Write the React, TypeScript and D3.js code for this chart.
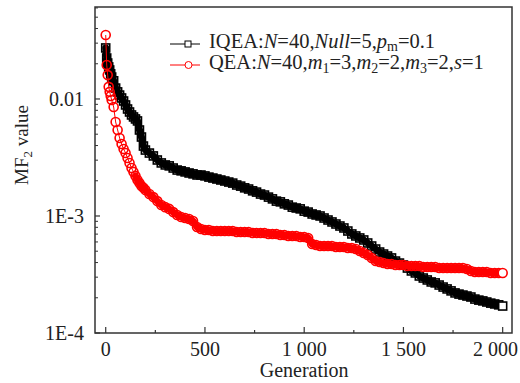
import React from "react";
import * as d3 from "d3";

// generation index shared by both series
const generations = [
  0, 5, 10, 15, 20, 25, 30, 40, 50, 60, 70, 80, 90, 100, 110, 120, 130, 140, 150, 160, 170, 180, 190, 200,
  220, 240, 260, 280, 300, 320, 340, 360, 380, 400,
  420, 440, 460, 480, 500, 520, 540, 560, 580, 600,
  620, 640, 660, 680, 700, 720, 740, 760, 780, 800,
  820, 840, 860, 880, 900, 920, 940, 960, 980, 1000,
  1020, 1040, 1060, 1080, 1100, 1120, 1140, 1160, 1180, 1200,
  1220, 1240, 1260, 1280, 1300, 1320, 1340, 1360, 1380, 1400,
  1420, 1440, 1460, 1480, 1500, 1520, 1540, 1560, 1580, 1600,
  1620, 1640, 1660, 1680, 1700, 1720, 1740, 1760, 1780, 1800,
  1820, 1840, 1860, 1880, 1900, 1920, 1940, 1960, 1980, 2000,
];

// IQEA: N=40, Null=5, pm=0.1
const iqeaValues = [
  0.0273, 0.0224, 0.0203, 0.0188, 0.0177, 0.0164, 0.0154, 0.0143, 0.0124, 0.0115, 0.0108, 0.0102,
  0.00961, 0.00889, 0.00821, 0.00774, 0.0073, 0.00702, 0.00675, 0.00649, 0.00543, 0.00473, 0.00396, 0.00366,
  0.00345, 0.00326, 0.00301, 0.00284, 0.00273, 0.00268, 0.00257, 0.00247, 0.00243, 0.00238,
  0.00233, 0.00229, 0.00224, 0.00224, 0.0022, 0.00215, 0.00211, 0.00207, 0.00203, 0.00199,
  0.00195, 0.00191, 0.00184, 0.0018, 0.00174, 0.0017, 0.00164, 0.0016, 0.00154, 0.00151,
  0.00145, 0.0014, 0.00134, 0.00132, 0.00127, 0.00124, 0.00119, 0.00117, 0.00115, 0.0011,
  0.00108, 0.00104, 0.00102, 0.001, 0.000961, 0.000924, 0.000889, 0.000854, 0.000821, 0.00079,
  0.000744, 0.000702, 0.000675, 0.000649, 0.000624, 0.000588, 0.000554, 0.000522, 0.000492, 0.000473,
  0.000455, 0.000438, 0.000412, 0.000396, 0.000381, 0.000359, 0.000339, 0.000326, 0.000307, 0.000295,
  0.000284, 0.000273, 0.000268, 0.000257, 0.000247, 0.000238, 0.000229, 0.00022, 0.000215, 0.000211,
  0.000207, 0.000203, 0.000195, 0.000191, 0.000188, 0.000184, 0.00018, 0.000177, 0.000174, 0.00017,
];

// QEA: N=40, m1=3, m2=2, m3=2, s=1
const qeaValues = [
  0.0352, 0.0195, 0.016, 0.0127, 0.0115, 0.0106, 0.0098, 0.00854, 0.00636, 0.00543, 0.00464, 0.00412,
  0.00374, 0.00345, 0.00313, 0.00284, 0.00257, 0.00238, 0.0022, 0.00203, 0.00191, 0.0018, 0.00174, 0.00167,
  0.00154, 0.00145, 0.00134, 0.00124, 0.00119, 0.00115, 0.00108, 0.00102, 0.000981, 0.000961,
  0.000943, 0.000906, 0.000805, 0.000774, 0.000759, 0.000759, 0.000744, 0.000744, 0.000744, 0.000744,
  0.000744, 0.000744, 0.00073, 0.00073, 0.00073, 0.00073, 0.000716, 0.000716, 0.000716, 0.000716,
  0.000702, 0.000702, 0.000702, 0.000688, 0.000688, 0.000675, 0.000675, 0.000675, 0.000662, 0.000662,
  0.000649, 0.000576, 0.000565, 0.000554, 0.000554, 0.000554, 0.000554, 0.000543, 0.000543, 0.000543,
  0.000533, 0.000533, 0.000522, 0.000502, 0.000483, 0.000464, 0.000438, 0.000412, 0.000404, 0.000396,
  0.000389, 0.000389, 0.000381, 0.000381, 0.000381, 0.000374, 0.000374, 0.000374, 0.000374, 0.000366,
  0.000366, 0.000366, 0.000366, 0.000359, 0.000359, 0.000359, 0.000359, 0.000359, 0.000359, 0.000359,
  0.000352, 0.000339, 0.000332, 0.000332, 0.000332, 0.000332, 0.000326, 0.000326, 0.000326, 0.000326,
];

const xTicks = [0, 500, 1000, 1500, 2000];
const xTickLabels = ["0", "500", "1 000", "1 500", "2 000"];
const xMinorTicks = [250, 750, 1250, 1750];
const yTicks = [1e-4, 1e-3, 1e-2];
const yTickLabels = ["1E-4", "1E-3", "0.01"];

const W = 520;
const H = 383;
const margin = { left: 95, right: 8, top: 7, bottom: 50 };
const FONT = "'Liberation Serif', 'Times New Roman', serif";

export default function App() {
  const x = d3.scaleLinear().domain([-54, 2047]).range([margin.left, W - margin.right]);
  const y = d3.scaleLog().domain([1e-4, 0.0611]).range([H - margin.bottom, margin.top]);

  const iqea = generations.map((g, i) => [g, iqeaValues[i]] as [number, number]);
  const qea = generations.map((g, i) => [g, qeaValues[i]] as [number, number]);

  const line = d3
    .line<[number, number]>()
    .x((d) => x(d[0]))
    .y((d) => y(d[1]));

  // log minor ticks 2..9 in each decade inside the domain
  const yMinor: number[] = [];
  yTicks.forEach((dec) => {
    for (let k = 2; k <= 9; k++) {
      const v = dec * k;
      if (v < 0.0611) yMinor.push(v);
    }
  });

  const x0 = margin.left;
  const x1 = W - margin.right;
  const y0 = H - margin.bottom;
  const y1 = margin.top;
  const sq = 8;
  const lastB = iqea.length - 1;
  const lastR = qea.length - 1;

  // where the original markers are packed into a solid band
  const iqeaBand = iqea.slice(0, lastB);
  const qeaBand = qea.filter((d) => d[0] >= 150 && d[0] < 2000);

  return (
    <svg
      width={W}
      height={H}
      style={{ position: "absolute", left: 0, top: 0, background: "#fff" }}
      fontFamily={FONT}
    >
      {/* IQEA */}
      <path
        d={line(iqeaBand) || ""}
        fill="none"
        stroke="#000"
        strokeWidth={7}
        strokeLinejoin="round"
        strokeLinecap="round"
      />
      <path d={line(iqea) || ""} fill="none" stroke="#000" strokeWidth={1} />
      {iqea.map((d, i) => (
        <rect
          key={"b" + i}
          x={x(d[0]) - sq / 2}
          y={y(d[1]) - sq / 2}
          width={sq}
          height={sq}
          fill={i === lastB ? "#fff" : "none"}
          stroke="#000"
          strokeWidth={1.6}
        />
      ))}

      {/* QEA */}
      <path
        d={line(qeaBand) || ""}
        fill="none"
        stroke="#f00"
        strokeWidth={7}
        strokeLinejoin="round"
        strokeLinecap="round"
      />
      <path d={line(qea) || ""} fill="none" stroke="#f00" strokeWidth={1} />
      {qea.map((d, i) => (
        <circle
          key={"r" + i}
          cx={x(d[0])}
          cy={y(d[1])}
          r={4.5}
          fill={i === lastR ? "#fff" : "none"}
          stroke="#f00"
          strokeWidth={1.6}
        />
      ))}

      {/* frame */}
      <rect x={x0} y={y1} width={x1 - x0} height={y0 - y1} fill="none" stroke="#333" strokeWidth={1.5} />

      {/* x ticks */}
      {xTicks.map((t, i) => {
        const last = i === xTicks.length - 1;
        return (
          <g key={"xt" + t}>
            <line x1={x(t)} x2={x(t)} y1={y0} y2={y0 - 6} stroke="#333" strokeWidth={1.2} />
            <text
              x={last ? W - 2 : x(t)}
              y={356}
              fontSize={20}
              textAnchor={last ? "end" : "middle"}
              fill="#222"
            >
              {xTickLabels[i]}
            </text>
          </g>
        );
      })}
      {xMinorTicks.map((t) => (
        <line key={"xm" + t} x1={x(t)} x2={x(t)} y1={y0} y2={y0 - 3} stroke="#333" strokeWidth={1.2} />
      ))}
      <text x={x(1000)} y={377} fontSize={20} textAnchor="middle" fill="#222">
        Generation
      </text>

      {/* y ticks */}
      {yTicks.map((t, i) => (
        <g key={"yt" + t}>
          <line x1={x0} x2={x0 + 5} y1={y(t)} y2={y(t)} stroke="#333" strokeWidth={1.2} />
          <text x={84} y={y(t) + 7} fontSize={20} textAnchor="end" fill="#222">
            {yTickLabels[i]}
          </text>
        </g>
      ))}
      {yMinor.map((t) => (
        <line key={"ym" + t} x1={x0} x2={x0 + 3} y1={y(t)} y2={y(t)} stroke="#333" strokeWidth={1} />
      ))}
      <text transform="translate(28,145) rotate(-90)" fontSize={19} textAnchor="middle" fill="#222">
        MF<tspan fontSize={13} dy={4}>2</tspan>
        <tspan dy={-4}> value</tspan>
      </text>

      {/* legend */}
      <g>
        <line x1={170} x2={200} y1={44} y2={44} stroke="#000" strokeWidth={1} />
        <rect x={185} y={41} width={6} height={6} fill="#fff" stroke="#000" strokeWidth={1} />
        <text x={209} y={48} fontSize={20.5} fill="#222">
          IQEA:<tspan fontStyle="italic">N</tspan>=40,<tspan fontStyle="italic">Null</tspan>=5,
          <tspan fontStyle="italic">p</tspan>
          <tspan fontSize={14} dy={3}>m</tspan>
          <tspan dy={-3}>=0.1</tspan>
        </text>
        <line x1={170} x2={200} y1={65} y2={65} stroke="#f00" strokeWidth={1} />
        <circle cx={188.5} cy={65} r={3.5} fill="#fff" stroke="#f00" strokeWidth={1} />
        <text x={209} y={69} fontSize={20.5} fill="#222">
          QEA:<tspan fontStyle="italic">N</tspan>=40,<tspan fontStyle="italic">m</tspan>
          <tspan fontSize={14} dy={4}>1</tspan>
          <tspan dy={-4}>=3,</tspan>
          <tspan fontStyle="italic">m</tspan>
          <tspan fontSize={14} dy={4}>2</tspan>
          <tspan dy={-4}>=2,</tspan>
          <tspan fontStyle="italic">m</tspan>
          <tspan fontSize={14} dy={4}>3</tspan>
          <tspan dy={-4}>=2,</tspan>
          <tspan fontStyle="italic">s</tspan>=1
        </text>
      </g>
    </svg>
  );
}
